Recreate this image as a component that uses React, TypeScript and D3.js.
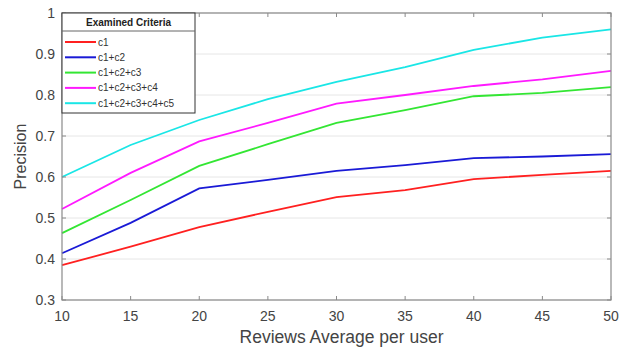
import { useEffect, useRef } from "react";
import * as d3 from "d3";

const xValues = [10, 15, 20, 25, 30, 35, 40, 45, 50];
const seriesNames = ["c1", "c1+c2", "c1+c2+c3", "c1+c2+c3+c4", "c1+c2+c3+c4+c5"];
const seriesColors = ["#ff2020", "#1a1ad6", "#33e633", "#ff1aff", "#1ae6e6"];
const c1 = [0.385, 0.43, 0.478, 0.515, 0.551, 0.568, 0.595, 0.605, 0.615];
const c1c2 = [0.414, 0.488, 0.572, 0.593, 0.615, 0.629, 0.646, 0.65, 0.656];
const c1c2c3 = [0.463, 0.544, 0.627, 0.68, 0.732, 0.763, 0.797, 0.805, 0.819];
const c1c2c3c4 = [0.522, 0.61, 0.687, 0.732, 0.779, 0.8, 0.822, 0.838, 0.859];
const c1c2c3c4c5 = [0.6, 0.678, 0.739, 0.79, 0.832, 0.868, 0.91, 0.94, 0.96];
const allSeries = [c1, c1c2, c1c2c3, c1c2c3c4, c1c2c3c4c5];
const yTicks = [0.3, 0.4, 0.5, 0.6, 0.7, 0.8, 0.9, 1];
const xTicks = [10, 15, 20, 25, 30, 35, 40, 45, 50];

const W = 621;
const H = 347;
const margin = { top: 13, right: 10, bottom: 47, left: 62 };

function Chart() {
  const ref = useRef<SVGSVGElement>(null);

  useEffect(() => {
    if (!ref.current) return;
    const svg = d3.select(ref.current);
    svg.selectAll("*").remove();

    const iw = W - margin.left - margin.right;
    const ih = H - margin.top - margin.bottom;
    const font = "'Liberation Sans', Arial, sans-serif";

    const x = d3.scaleLinear().domain([10, 50]).range([0, iw]);
    const y = d3.scaleLinear().domain([0.3, 1]).range([ih, 0]);

    const g = svg.append("g").attr("transform", `translate(${margin.left},${margin.top})`);

    // grid
    g.append("g")
      .selectAll("line")
      .data(yTicks)
      .enter()
      .append("line")
      .attr("x1", 0)
      .attr("x2", iw)
      .attr("y1", (d) => y(d))
      .attr("y2", (d) => y(d))
      .attr("stroke", "#e6e6e6")
      .attr("stroke-width", 1);

    // lines
    const line = d3
      .line<number>()
      .x((_, i) => x(xValues[i]))
      .y((d) => y(d));

    allSeries.forEach((s, k) => {
      g.append("path")
        .datum(s)
        .attr("fill", "none")
        .attr("stroke", seriesColors[k])
        .attr("stroke-width", 1.8)
        .attr("d", line);
    });

    // box
    g.append("rect")
      .attr("width", iw)
      .attr("height", ih)
      .attr("fill", "none")
      .attr("stroke", "#8a8a8a")
      .attr("stroke-width", 1.2);

    // ticks inward on all sides
    const tl = 4;
    xTicks.forEach((t) => {
      g.append("line").attr("x1", x(t)).attr("x2", x(t)).attr("y1", ih).attr("y2", ih - tl).attr("stroke", "#8a8a8a");
      g.append("line").attr("x1", x(t)).attr("x2", x(t)).attr("y1", 0).attr("y2", tl).attr("stroke", "#8a8a8a");
    });
    yTicks.forEach((t) => {
      g.append("line").attr("x1", 0).attr("x2", tl).attr("y1", y(t)).attr("y2", y(t)).attr("stroke", "#8a8a8a");
      g.append("line").attr("x1", iw).attr("x2", iw - tl).attr("y1", y(t)).attr("y2", y(t)).attr("stroke", "#8a8a8a");
    });

    // tick labels
    g.append("g")
      .selectAll("text")
      .data(xTicks)
      .enter()
      .append("text")
      .attr("x", (d) => x(d))
      .attr("y", ih + 21)
      .attr("text-anchor", "middle")
      .attr("font-family", font)
      .attr("font-size", 14)
      .attr("fill", "#444")
      .text((d) => String(d));

    g.append("g")
      .selectAll("text")
      .data(yTicks)
      .enter()
      .append("text")
      .attr("x", -7)
      .attr("y", (d) => y(d) + 5)
      .attr("text-anchor", "end")
      .attr("font-family", font)
      .attr("font-size", 14)
      .attr("fill", "#444")
      .text((d) => (d === 1 ? "1" : d.toFixed(1)));

    // axis titles
    svg.append("text")
      .attr("x", margin.left + iw / 2 + 5)
      .attr("y", H - 4)
      .attr("text-anchor", "middle")
      .attr("font-family", font)
      .attr("font-size", 17.5)
      .attr("fill", "#444")
      .text("Reviews Average per user");

    svg.append("text")
      .attr("transform", `translate(26,${margin.top + ih / 2}) rotate(-90)`)
      .attr("text-anchor", "middle")
      .attr("font-family", font)
      .attr("font-size", 16)
      .attr("fill", "#444")
      .text("Precision");

    // legend
    const lg = g.append("g");
    const lw = 133;
    const lh = 100;
    lg.append("rect")
      .attr("width", lw)
      .attr("height", lh)
      .attr("fill", "white")
      .attr("stroke", "#333")
      .attr("stroke-width", 1);
    lg.append("text")
      .attr("x", lw / 2)
      .attr("y", 13)
      .attr("text-anchor", "middle")
      .attr("font-family", font)
      .attr("font-size", 10)
      .attr("font-weight", "bold")
      .attr("fill", "#222")
      .text("Examined Criteria");
    lg.append("line")
      .attr("x1", 0)
      .attr("x2", lw)
      .attr("y1", 18)
      .attr("y2", 18)
      .attr("stroke", "#666");
    seriesNames.forEach((name, k) => {
      const yy = 29 + k * 15.3;
      lg.append("line")
        .attr("x1", 3)
        .attr("x2", 34)
        .attr("y1", yy)
        .attr("y2", yy)
        .attr("stroke", seriesColors[k])
        .attr("stroke-width", 2);
      lg.append("text")
        .attr("x", 36)
        .attr("y", yy + 3.5)
        .attr("font-family", font)
        .attr("font-size", 10)
        .attr("fill", "#333")
        .text(name);
    });
  }, []);

  return (
    <svg
      ref={ref}
      width={W}
      height={H}
      style={{ position: "fixed", left: 0, top: 0, display: "block", background: "white" }}
    />
  );
}

export default function App() {
  return <Chart />;
}
